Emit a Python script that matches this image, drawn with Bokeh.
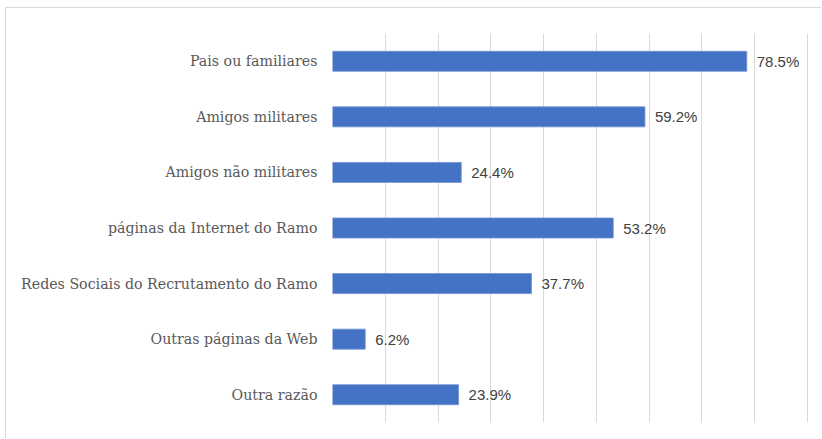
from bokeh.plotting import figure
from bokeh.models import ColumnDataSource, FixedTicker, Range1d, LabelSet
from bokeh.core.properties import value
from bokeh.embed import file_html
from bokeh.resources import INLINE

categories = [
    "Pais ou familiares",
    "Amigos militares",
    "Amigos não militares",
    "páginas da Internet do Ramo",
    "Redes Sociais do Recrutamento do Ramo",
    "Outras páginas da Web",
    "Outra razão",
]
values = [78.5, 59.2, 24.4, 53.2, 37.7, 6.2, 23.9]
value_labels = ["78.5%", "59.2%", "24.4%", "53.2%", "37.7%", "6.2%", "23.9%"]
grid_ticks = [0, 10, 20, 30, 40, 50, 60, 70, 80, 90]

factors = list(reversed(categories))

src = ColumnDataSource(data=dict(cat=categories, val=values, lab=value_labels))

p = figure(
    width=816, height=431,
    y_range=factors,
    x_range=Range1d(0, 90.2),
    output_backend="svg",
    toolbar_location=None,
    min_border_left=326, min_border_right=14, min_border_top=25, min_border_bottom=17,
)
p.margin = (7, 0, 0, 5)
p.styles = {"border-top": "1px solid #D9D9D9", "border-left": "1px solid #D9D9D9"}

p.hbar(y="cat", right="val", left=0, height=0.36, source=src,
       fill_color="#4472C4", line_color="#6F93D2", line_width=0.8)

labels = LabelSet(x="val", y="cat", text="lab", source=src,
                  x_offset=10, y_offset=0, text_baseline="middle",
                  text_font=value("Liberation Sans"), text_font_size=value("15px"),
                  text_color="#404040")
p.add_layout(labels)

p.outline_line_color = None
p.xaxis.visible = False
p.xgrid.ticker = FixedTicker(ticks=grid_ticks)
p.xgrid.grid_line_color = "#D9D9D9"
p.xgrid.grid_line_width = 1
p.ygrid.grid_line_color = None

p.yaxis.axis_line_color = None
p.yaxis.major_tick_line_color = None
p.yaxis.minor_tick_line_color = None
p.yaxis.major_tick_out = 0
p.yaxis.major_label_standoff = 15
p.yaxis.major_label_text_font = "DejaVu Serif"
p.yaxis.major_label_text_font_size = "14.2px"
p.yaxis.major_label_text_color = "#595959"

p.y_range.range_padding = 0

open("out.html", "w").write(file_html(p, INLINE))
